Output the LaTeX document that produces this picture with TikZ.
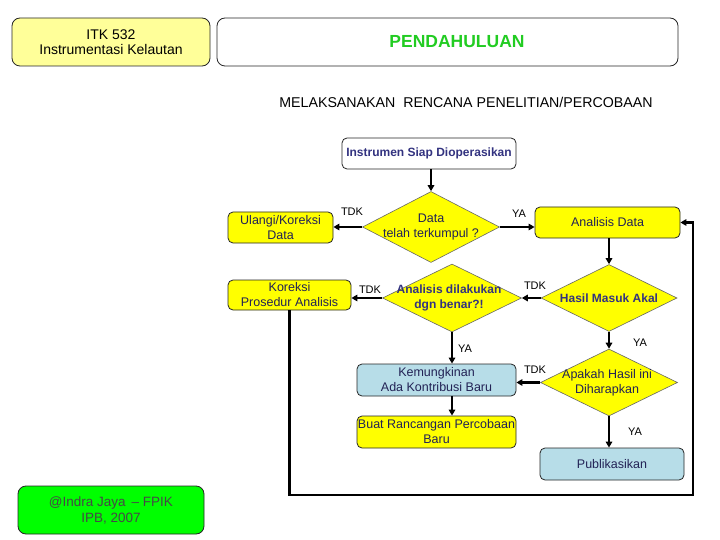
\documentclass[tikz,border=0pt]{standalone}
\usepackage{fontspec}
\setmainfont{Liberation Sans}
\usetikzlibrary{shapes.geometric,arrows.meta}
\definecolor{yel}{HTML}{FFFF00}
\definecolor{lyel}{HTML}{FFFF99}
\definecolor{lblue}{HTML}{B7DDE8}
\definecolor{grn}{HTML}{00FF00}
\definecolor{navy}{HTML}{222255}
\definecolor{bnavy}{HTML}{333380}
\definecolor{ptitle}{HTML}{22CC22}
\begin{document}
\begin{tikzpicture}[x=1pt,y=-1pt,
  box/.style={draw=black!85, line width=0.8pt, rounded corners=5pt, inner sep=0pt, align=center, text=navy, font=\fontsize{12.5pt}{15pt}\selectfont},
  dia/.style={diamond, draw=black!60, line width=0.6pt, fill=yel, inner sep=0pt},
  dtext/.style={align=center, text=navy, font=\fontsize{12.5pt}{15pt}\selectfont},
  btext/.style={align=center, text=bnavy, font=\bfseries\fontsize{12pt}{15pt}\selectfont},
  lbl/.style={font=\fontsize{11pt}{13pt}\selectfont},
  arr/.style={line width=2.2pt, -{Triangle[length=6pt,width=6.5pt]}}]
\useasboundingbox (0,0) rectangle (720,540);
\fill[white] (0,0) rectangle (720,540);

% header
\node[box, fill=lyel, rounded corners=8pt, minimum width=198pt, minimum height=48pt, text=black, font=\fontsize{14pt}{15.5pt}\selectfont] (itk) at (111,42) {ITK 532\\Instrumentasi Kelautan};
\node[box, fill=white, rounded corners=8pt, minimum width=461pt, minimum height=48pt] (pend) at (447.5,42) {};
\node[text=ptitle, font=\bfseries\fontsize{17.5pt}{20pt}\selectfont] (pendt) at (457,42) {PENDAHULUAN};
\node[font=\fontsize{14.2pt}{16pt}\selectfont] (title) at (466,102) {MELAKSANAKAN\ \ RENCANA PENELITIAN/PERCOBAAN};

% nodes
\node[box, fill=white, minimum width=174pt, minimum height=31pt, text=bnavy, font=\bfseries\fontsize{12pt}{14pt}\selectfont] (inst) at (429,153.5) {Instrumen Siap Dioperasikan};

\node[dia, minimum width=137pt, minimum height=71pt] (d1) at (431,227) {};
\node[dtext] (d1t) at (431,227) {Data\\telah terkumpul ?};

\node[box, fill=yel, minimum width=105pt, minimum height=31pt] (ul) at (280.5,227.5) {Ulangi/Koreksi\\Data};
\node[box, fill=yel, minimum width=145pt, minimum height=31pt] (ad) at (607.5,222.5) {Analisis Data};

\node[dia, minimum width=136pt, minimum height=67pt] (d2) at (609,298) {};
\node[btext] (d2t) at (609,298) {Hasil Masuk Akal};

\node[dia, minimum width=139pt, minimum height=68pt] (d3) at (452,298) {};
\node[btext] (d3t) at (449,298) {Analisis dilakukan\\dgn benar?!};

\node[box, fill=yel, minimum width=123pt, minimum height=30pt] (kor) at (289.5,295) {Koreksi\\Prosedur Analisis};

\node[box, fill=lblue, minimum width=159pt, minimum height=32pt] (kem) at (436.5,380) {Kemungkinan\\Ada Kontribusi Baru};
\node[box, fill=yel, minimum width=159pt, minimum height=32pt] (buat) at (436.5,432) {Buat Rancangan Percobaan\\Baru};

\node[dia, minimum width=137pt, minimum height=67pt] (d4) at (609,382.5) {};
\node[dtext] (d4t) at (607,382.5) {Apakah Hasil ini\\Diharapkan};

\node[box, fill=lblue, minimum width=144pt, minimum height=32pt] (pub) at (612,464) {Publikasikan};

\node[box, fill=grn, rounded corners=8pt, minimum width=186pt, minimum height=48pt, text=black!72, font=\fontsize{13.5pt}{16pt}\selectfont] (grn) at (111,510) {@Indra Jaya \,– FPIK\\IPB, 2007};

% labels
\node[lbl] (l1) at (352,212) {TDK};
\node[lbl] (l2) at (519,214) {YA};
\node[lbl] (l3) at (535,286) {TDK};
\node[lbl] (l4) at (370,290) {TDK};
\node[lbl] (l5) at (465,349) {YA};
\node[lbl] (l6) at (640,343) {YA};
\node[lbl] (l7) at (535,370) {TDK};
\node[lbl] (l8) at (635,432) {YA};

% connectors
\coordinate (c1) at (290,495);
\coordinate (c2) at (693,495);
\draw[arr] (inst.south -| d1.north) -- (d1.north);
\draw[arr] (d1.west) -- (d1.west -| ul.east);
\draw[arr] (d1.east) -- (d1.east -| ad.west);
\draw[arr] (ad.south -| d2.north) -- (d2.north);
\draw[arr] (d2.west) -- (d3.east);
\draw[arr] (d3.west) -- (d3.west -| kor.east);
\draw[arr] (d3.south) -- (d3.south |- kem.north);
\draw[arr] (d3.south |- kem.south) -- (d3.south |- buat.north);
\draw[arr] (d2.south) -- (d4.north);
\draw[arr] (d4.west) -- (d4.west -| kem.east);
\draw[arr] (d4.south) -- (d4.south |- pub.north);
\draw[arr] (kor.south) -- (kor.south |- c1) -- (c2) |- (ad.east);
\end{tikzpicture}
\end{document}
